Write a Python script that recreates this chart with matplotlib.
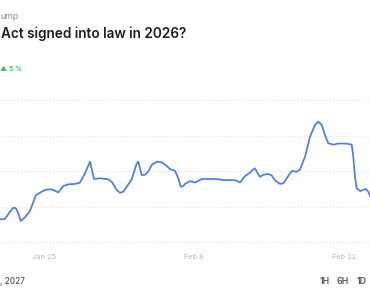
import matplotlib
matplotlib.use("Agg")
import matplotlib.pyplot as plt
import pandas as pd

# ---- data ----
times = [
    "2026-01-20 21:24", "2026-01-21 08:36", "2026-01-21 19:48", "2026-01-22 03:12",
    "2026-01-22 09:18", "2026-01-22 14:24", "2026-01-22 19:48", "2026-01-23 05:24",
    "2026-01-23 16:36", "2026-01-24 06:06", "2026-01-24 15:00", "2026-01-25 02:12",
    "2026-01-25 13:24", "2026-01-25 20:48", "2026-01-26 08:00", "2026-01-26 19:12",
    "2026-01-27 06:24", "2026-01-27 21:24", "2026-01-28 08:36", "2026-01-28 19:48",
    "2026-01-29 07:00", "2026-01-29 16:00", "2026-01-30 05:24", "2026-01-31 00:00",
    "2026-01-31 07:42", "2026-01-31 18:54", "2026-02-01 02:18", "2026-02-01 09:36",
    "2026-02-01 17:18", "2026-02-02 04:30", "2026-02-02 15:42", "2026-02-02 19:12",
    "2026-02-03 02:54", "2026-02-03 10:18", "2026-02-03 17:36", "2026-02-04 01:18",
    "2026-02-04 12:30", "2026-02-04 23:42", "2026-02-05 10:54", "2026-02-05 18:18",
    "2026-02-06 05:30", "2026-02-06 12:54", "2026-02-06 18:12", "2026-02-07 00:00",
    "2026-02-07 03:54", "2026-02-07 15:06", "2026-02-08 02:18", "2026-02-08 13:30",
    "2026-02-08 17:18", "2026-02-09 19:18", "2026-02-10 10:18", "2026-02-10 14:06",
    "2026-02-11 16:06", "2026-02-11 23:42", "2026-02-12 07:06", "2026-02-12 18:18",
    "2026-02-13 05:30", "2026-02-13 12:54", "2026-02-13 16:42", "2026-02-13 21:48",
    "2026-02-14 03:54", "2026-02-14 11:12", "2026-02-14 22:30", "2026-02-15 06:06",
    "2026-02-15 13:30", "2026-02-16 00:42", "2026-02-16 08:06", "2026-02-16 15:42",
    "2026-02-16 23:06", "2026-02-17 04:12", "2026-02-17 14:06", "2026-02-17 21:30",
    "2026-02-18 08:42", "2026-02-18 19:54", "2026-02-19 07:06", "2026-02-19 14:30",
    "2026-02-19 22:06", "2026-02-20 05:30", "2026-02-20 12:54", "2026-02-21 00:06",
    "2026-02-21 11:18", "2026-02-22 06:06", "2026-02-22 17:18", "2026-02-22 20:54",
    "2026-02-23 00:42", "2026-02-23 04:30", "2026-02-23 11:54", "2026-02-23 19:18",
    "2026-02-24 00:42", "2026-02-24 06:30", "2026-02-24 10:18", "2026-02-24 14:48",
]
values = [
    6.4, 6.5, 8.6, 9.7, 9.5, 8.1, 5.9, 7.0, 8.8, 13.3, 13.9, 14.7,
    14.9, 14.7, 14.0, 15.8, 16.3, 16.4, 16.8, 19.4, 22.7, 17.8, 18.0, 17.7,
    17.0, 14.7, 13.9, 14.2, 15.6, 17.7, 22.2, 22.7, 18.9, 19.0, 19.9, 21.8,
    22.7, 22.5, 21.5, 20.6, 20.1, 18.0, 15.6, 15.8, 16.4, 17.2, 16.8, 17.5,
    17.8, 17.8, 17.7, 17.5, 17.5, 17.3, 16.8, 18.6, 19.6, 20.5, 20.8, 19.6,
    18.4, 19.0, 19.2, 18.8, 17.4, 16.4, 16.6, 18.0, 19.4, 20.1, 19.8, 20.5,
    24.1, 29.7, 33.1, 34.0, 33.1, 30.2, 27.9, 27.5, 27.8, 27.8, 27.5, 24.1,
    18.4, 15.2, 14.4, 14.7, 15.0, 14.2, 13.0, 12.1,
]
tick_dates = ["2026-01-25", "2026-02-08", "2026-02-22"]
tick_labels = ["Jan 25", "Feb 8", "Feb 22"]
grid_values = [0, 10, 20, 30, 40]

title = "Act signed into law in 2026?"
crumb = "ump"
change = "▲ 5 %"
end_date = ", 2027"
ranges = ["1H", "6H", "1D"]

# ---- figure ----
W, H = 370, 297
fig = plt.figure(figsize=(W / 100, H / 100), dpi=100)
fig.patch.set_facecolor("white")

def fy(py):
    return 1 - py / H

ax_bottom = fy(242)
ax_top = fy(100.4)
ax = fig.add_axes([0, ax_bottom, 1, ax_top - ax_bottom])
ax.set_facecolor("none")

t = pd.to_datetime(times)
ax.plot(t, values, color="#4d7bf3", lw=1.25, solid_capstyle="round",
        solid_joinstyle="round", antialiased=True)

ax.set_xlim(pd.Timestamp("2026-01-20 21:25"), pd.Timestamp("2026-02-24 10:20"))
ax.set_ylim(0, 40)

for g in grid_values:
    ax.axhline(g, color="#dedede", lw=0.7, ls=(0, (1, 2)), zorder=0,
               clip_on=False)

for s in ax.spines.values():
    s.set_visible(False)
ax.set_yticks([])
ax.set_xticks(pd.to_datetime(tick_dates))
ax.set_xticklabels(tick_labels)
ax.tick_params(axis="x", length=0, pad=8.5, labelsize=5.3, labelcolor="#b8b8b8")
for lab in ax.get_xticklabels():
    lab.set_fontfamily("Inter")

font = "Inter"
fig.text(0 / W, fy(16.5), crumb, fontsize=6.4, color="#8a8a8a",
         family=font, ha="left", va="center")
fig.text(1 / W, fy(33.5), title, fontsize=9.8, color="#1e1e1e",
         family=font, weight="semibold", ha="left", va="center")
fig.text(0 / W, fy(69), change, fontsize=5.0, color="#3fbf6a",
         family=["Inter", "DejaVu Sans"], weight="semibold", ha="left",
         va="center")
fig.text(0 / W, fy(282), end_date, fontsize=5.9, color="#555555",
         family=font, weight="medium", ha="left", va="center")

xs = [325, 343, 362]
for x, r in zip(xs, ranges):
    fig.text(x / W, fy(282), r, fontsize=6.4, color="#555555",
             family=font, weight="semibold", ha="center", va="center")

fig.savefig("out.png", dpi=100, facecolor="white")
